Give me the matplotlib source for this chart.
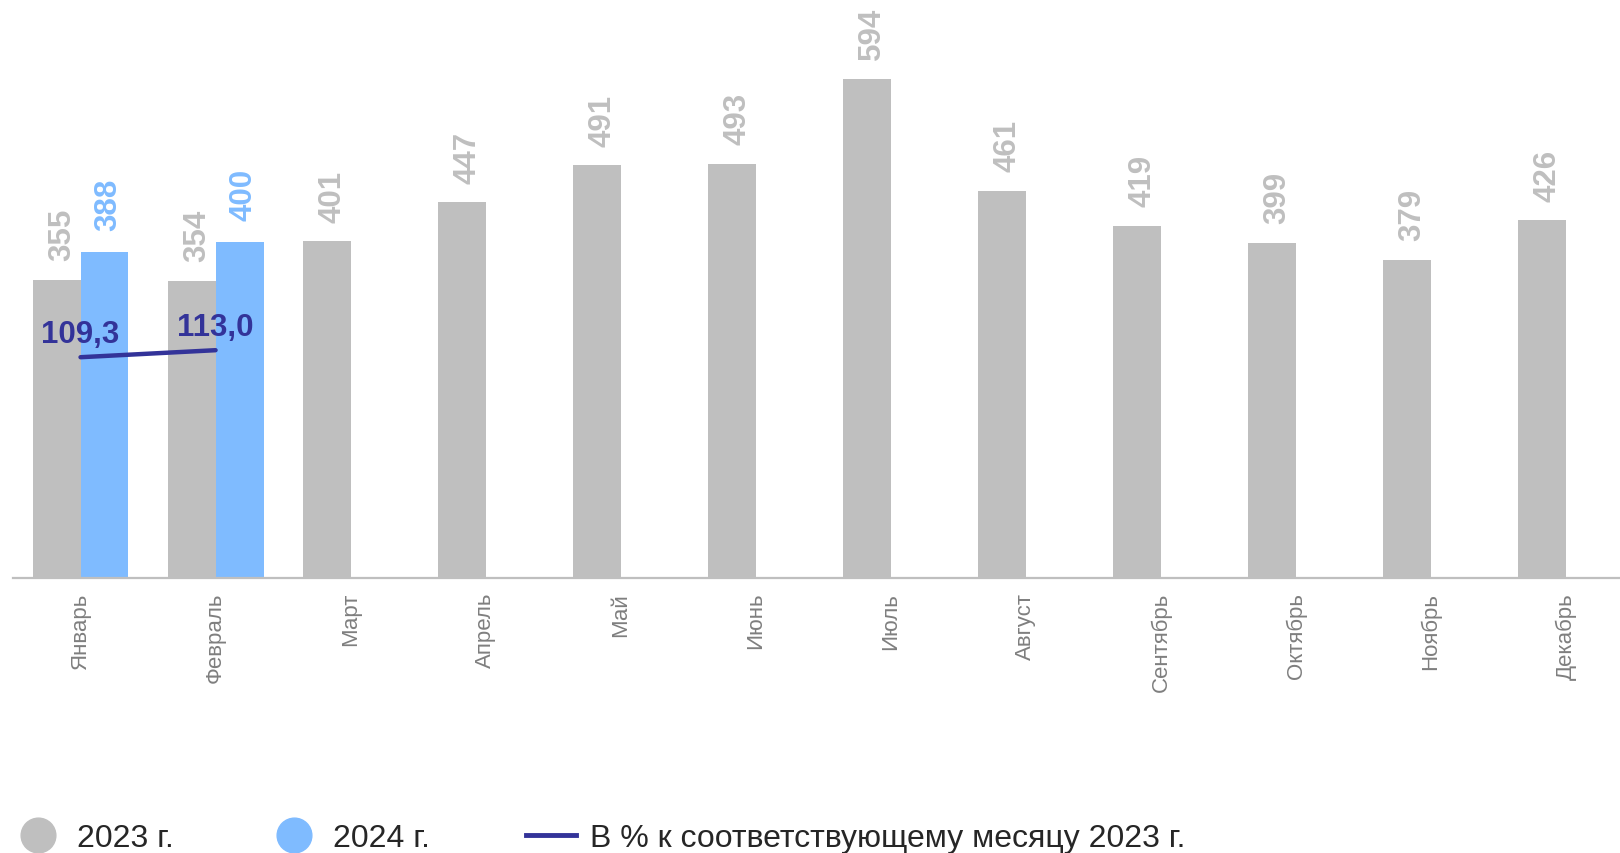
import numpy as np
import matplotlib.pyplot as plt
from matplotlib.lines import Line2D

plt.rcParams['font.family'] = ['Liberation Sans', 'DejaVu Sans']

# Data
months = ['Январь', 'Февраль', 'Март', 'Апрель', 'Май', 'Июнь',
          'Июль', 'Август', 'Сентябрь', 'Октябрь', 'Ноябрь', 'Декабрь']
vals_2023 = [355, 354, 401, 447, 491, 493, 594, 461, 419, 399, 379, 426]
vals_2024 = [388, 400]
pct_2024 = [109.3, 113.0]
pct_labels = ['109,3', '113,0']

GRAY = '#BFBFBF'
BLUE = '#7FBBFF'
NAVY = '#333399'

fig = plt.figure(figsize=(16.2, 8.54), dpi=100)
ax = fig.add_axes([13 / 1620, 275 / 854, 1607 / 1620, 579 / 854])

x = np.arange(len(months))
w = 0.355
x24 = x[:len(vals_2024)]

ax.bar(x - w / 2, vals_2023, width=w, color=GRAY, zorder=2)
ax.bar(x24 + w / 2, vals_2024, width=w, color=BLUE, zorder=2)

# value labels
for xi, v in zip(x, vals_2023):
    ax.annotate(str(v), (xi - w / 2, v), xytext=(4, 14), textcoords='offset points',
                rotation=90, ha='center', va='bottom', fontsize=22.5,
                fontweight='bold', color=GRAY)
for xi, v in zip(x24, vals_2024):
    ax.annotate(str(v), (xi + w / 2, v), xytext=(3, 16), textcoords='offset points',
                rotation=90, ha='center', va='bottom', fontsize=22.5,
                fontweight='bold', color=BLUE)

ax.set_xlim(-0.5, 11.4)
ax.set_ylim(0, 689)
ax.set_xticks(x)
ax.set_xticklabels(months, rotation=90, fontsize=16, color='#7F7F7F')
ax.tick_params(axis='x', length=0, pad=10)
ax.set_yticks([])
for s in ['top', 'right', 'left']:
    ax.spines[s].set_visible(False)
ax.spines['bottom'].set_color(GRAY)
ax.spines['bottom'].set_linewidth(1.6)

# secondary axis for percent line
ax2 = ax.twinx()
ax2.plot(x24, pct_2024, color=NAVY, lw=3.2, solid_capstyle='round', zorder=3)
for xi, p, lab in zip(x24, pct_2024, pct_labels):
    ax2.annotate(lab, (xi, p), xytext=(0, 17), textcoords='offset points',
                 ha='center', va='center', fontsize=22.5, fontweight='bold', color=NAVY)
ax2.set_ylim(-7, 298)
ax2.set_yticks([])
for s in ax2.spines.values():
    s.set_visible(False)

handles = [
    Line2D([], [], marker='o', ls='', ms=25, color=GRAY),
    Line2D([], [], marker='o', ls='', ms=25, color=BLUE),
    Line2D([], [], color=NAVY, lw=3.5),
]
labels = ['2023 г.', '2024 г.', 'В % к соответствующему месяцу 2023 г.']
fig.legend(handles, labels, loc='center left', bbox_to_anchor=(13 / 1620, 15 / 854),
           ncol=3, frameon=False, fontsize=23, handlelength=1.55, handletextpad=0.45,
           columnspacing=3.0, borderpad=0, borderaxespad=0, labelcolor='#262626')

fig.savefig('out.png', dpi=100)
